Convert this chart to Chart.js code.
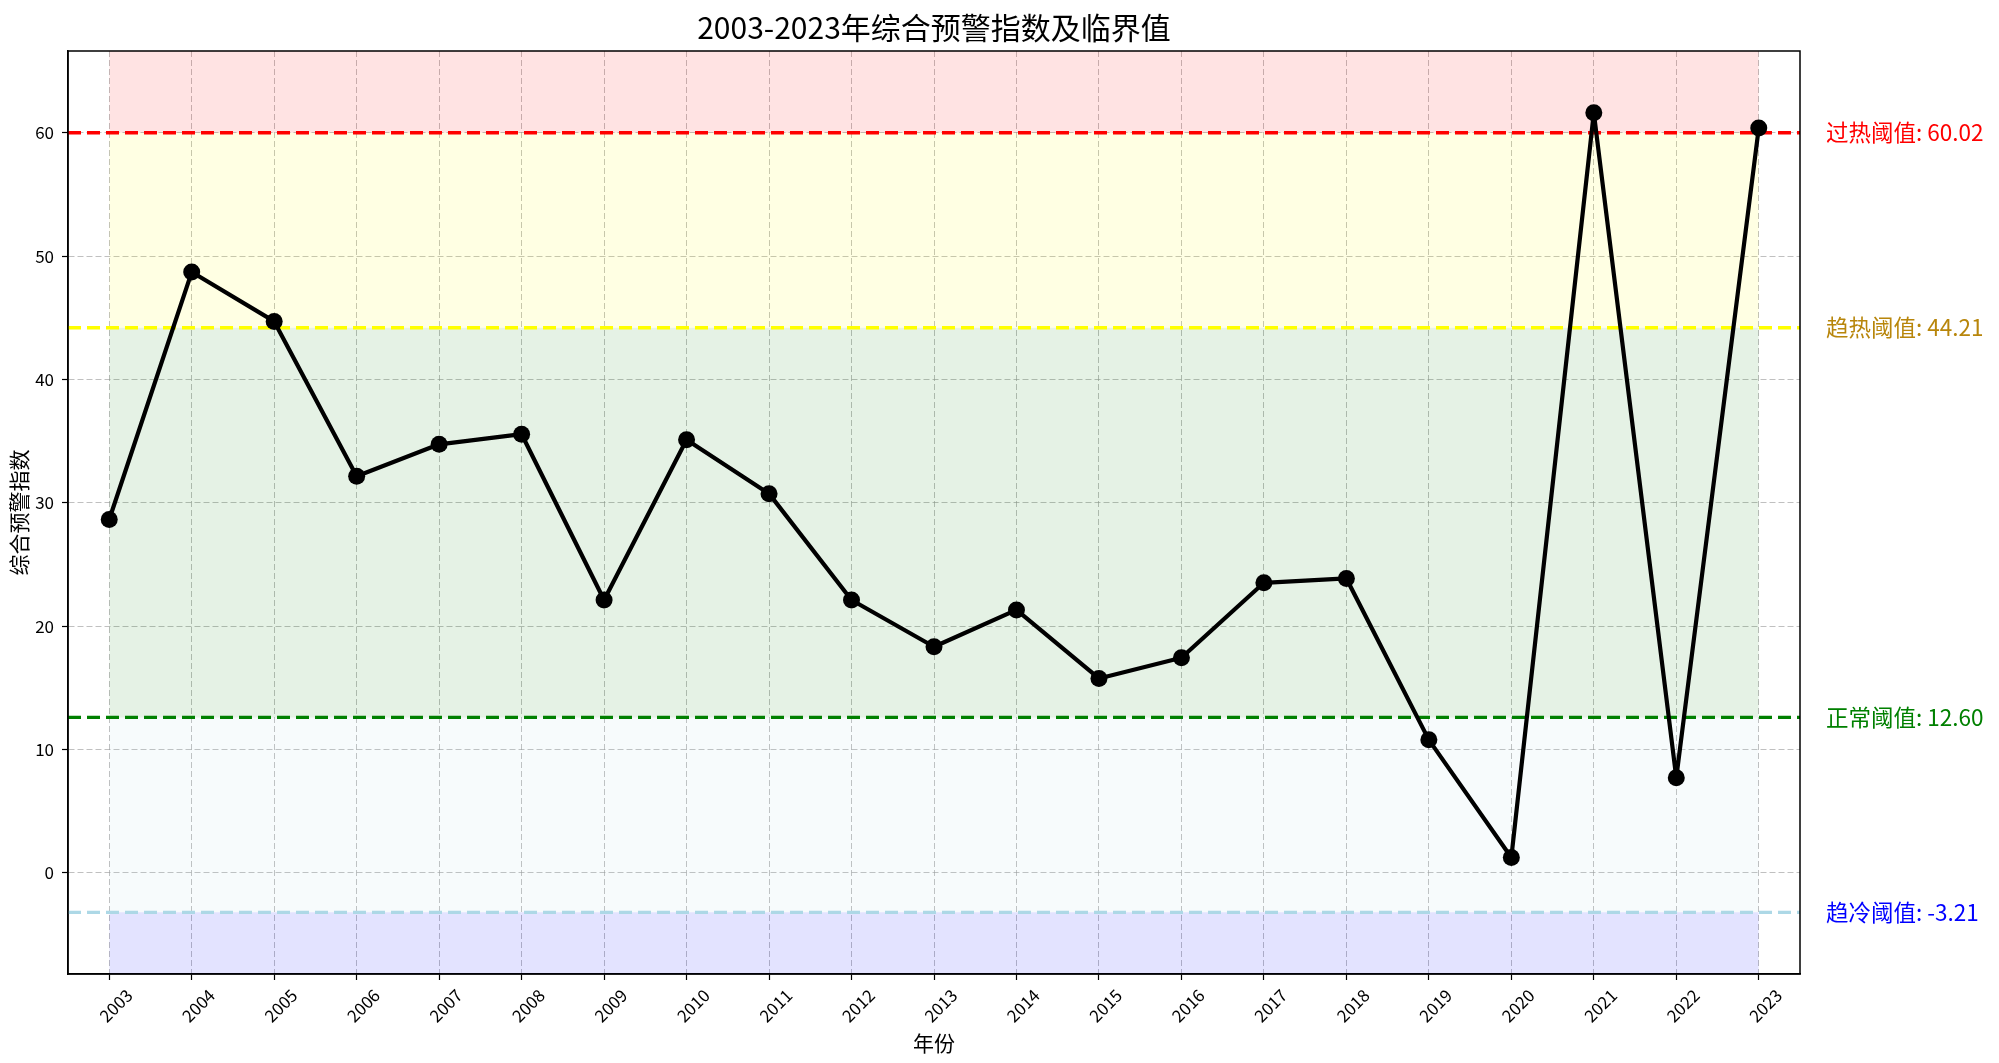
<!DOCTYPE html>
<html>
<head>
<meta charset="utf-8">
<script src="https://cdn.jsdelivr.net/npm/chart.js@4.4.1/dist/chart.umd.min.js"></script>
<style>
  html, body { margin: 0; padding: 0; background: #fff; }
  #wrap { width: 1999px; height: 1063px; }
</style>
</head>
<body>
<div id="wrap"><canvas id="chart" width="1999" height="1063"></canvas></div>
<script>
// data
const years = [2003, 2004, 2005, 2006, 2007, 2008, 2009, 2010, 2011, 2012, 2013,
               2014, 2015, 2016, 2017, 2018, 2019, 2020, 2021, 2022, 2023];
const indexValues = [28.65, 48.72, 44.72, 32.16, 34.75, 35.57, 22.12, 35.12, 30.75, 22.12, 18.33,
                     21.32, 15.76, 17.44, 23.52, 23.87, 10.78, 1.24, 61.65, 7.70, 60.40];
const yTicks = [0, 10, 20, 30, 40, 50, 60];
const thresholdNames = ['过热阈值', '趋热阈值', '正常阈值', '趋冷阈值'];
const thresholdValues = [60.02, 44.21, 12.60, -3.21];
const chartTitle = '2003-2023年综合预警指数及临界值';

// styles
const lineColors = ['#ff0000', '#ffff00', '#008000', '#add8e6'];
const textColors = ['#ff0000', '#b8860b', '#008000', '#0000ff'];
const bandColors = ['rgba(255,0,0,0.11)', 'rgba(255,255,0,0.11)', 'rgba(0,128,0,0.1)',
                    'rgba(173,216,230,0.1)', 'rgba(0,0,255,0.11)'];
const FONT = '"Noto Sans CJK SC", "Noto Sans", sans-serif';

const yMin = Math.min(...indexValues, ...thresholdValues) - 5;
const yMax = Math.max(...indexValues, ...thresholdValues) + 5;
const xMin = years[0] - 0.5;
const xMax = years[years.length - 1] + 0.5;

Chart.defaults.font.family = FONT;
Chart.defaults.color = '#000';

let datasets = [];

// main series
datasets.push({
    label: '综合预警指数',
    data: years.map((x, i) => ({ x: x, y: indexValues[i] })),
    borderColor: '#000',
    borderWidth: 4.2,
    borderJoinStyle: 'round',
    borderCapStyle: 'round',
    pointRadius: 8.5,
    pointBackgroundColor: '#000',
    pointBorderWidth: 0,
    tension: 0,
    fill: false,
    order: 0
});

// threshold lines across the whole axes
thresholdValues.forEach((v, i) => {
    datasets.push({
        label: thresholdNames[i],
        data: [{ x: xMin, y: v }, { x: xMax, y: v }],
        borderColor: lineColors[i],
        borderWidth: 3.4,
        borderDash: [13, 6],
        pointRadius: 0,
        fill: false,
        order: 1
    });
});

// coloured zones between thresholds, from first to last year
const levels = [yMax, ...thresholdValues, yMin];
levels.forEach((v, i) => {
    datasets.push({
        label: 'band' + i,
        data: [{ x: years[0], y: v }, { x: years[years.length - 1], y: v }],
        borderColor: 'transparent',
        borderWidth: 0,
        pointRadius: 0,
        fill: i < levels.length - 1 ? '+1' : false,
        backgroundColor: bandColors[i] || 'transparent',
        order: 2
    });
});

const decorations = {
    id: 'decorations',
    afterDraw(chart) {
        const { ctx, chartArea, scales } = chart;
        ctx.save();
        // frame
        ctx.strokeStyle = '#000';
        ctx.lineWidth = 1.5;
        ctx.strokeRect(chartArea.left, chartArea.top,
                       chartArea.right - chartArea.left, chartArea.bottom - chartArea.top);
        // title centred over the plot area
        ctx.fillStyle = '#000';
        ctx.font = '30px ' + FONT;
        ctx.textAlign = 'center';
        ctx.textBaseline = 'middle';
        ctx.fillText(chartTitle, (chartArea.left + chartArea.right) / 2, 28);
        // threshold labels
        ctx.font = '22.5px ' + FONT;
        ctx.textAlign = 'left';
        thresholdValues.forEach((v, i) => {
            ctx.fillStyle = textColors[i];
            ctx.fillText(thresholdNames[i] + ': ' + v.toFixed(2),
                         chartArea.right + 26, scales.y.getPixelForValue(v));
        });
        ctx.restore();
    }
};

const gridStyle = {
    color: 'rgba(150,150,150,0.6)',
    lineWidth: 1,
    tickLength: 6,
    tickColor: '#000',
    tickWidth: 1.2
};
const borderStyle = { display: true, color: '#000', width: 1.5, dash: [6, 3] };

new Chart(document.getElementById('chart'), {
    type: 'line',
    data: { datasets: datasets },
    options: {
        responsive: false,
        animation: false,
        devicePixelRatio: 1,
        events: [],
        layout: { padding: { left: 0, right: 199, top: 51, bottom: 0 } },
        plugins: {
            legend: { display: false },
            tooltip: { enabled: false },
            title: { display: false }
        },
        scales: {
            x: {
                type: 'linear',
                min: xMin,
                max: xMax,
                afterBuildTicks: (s) => { s.ticks = years.map(v => ({ value: v })); },
                afterFit: (s) => { s.height = 89; },
                ticks: {
                    autoSkip: false,
                    minRotation: 45,
                    maxRotation: 45,
                    labelOffset: 20,
                    padding: 5,
                    color: '#000',
                    font: { size: 17 },
                    callback: (v) => String(v)
                },
                grid: gridStyle,
                border: borderStyle,
                title: {
                    display: true,
                    text: '年份',
                    color: '#000',
                    font: { size: 21 },
                    padding: { top: 0, bottom: 7 }
                }
            },
            y: {
                type: 'linear',
                min: yMin,
                max: yMax,
                afterBuildTicks: (s) => { s.ticks = yTicks.map(v => ({ value: v })); },
                afterFit: (s) => { s.width = 68; },
                ticks: {
                    padding: 8,
                    color: '#000',
                    font: { size: 17 },
                    callback: (v) => String(v)
                },
                grid: gridStyle,
                border: borderStyle,
                title: {
                    display: true,
                    text: '综合预警指数',
                    color: '#000',
                    font: { size: 21 },
                    padding: { top: 6, bottom: 0 }
                }
            }
        }
    },
    plugins: [decorations]
});
</script>
</body>
</html>
